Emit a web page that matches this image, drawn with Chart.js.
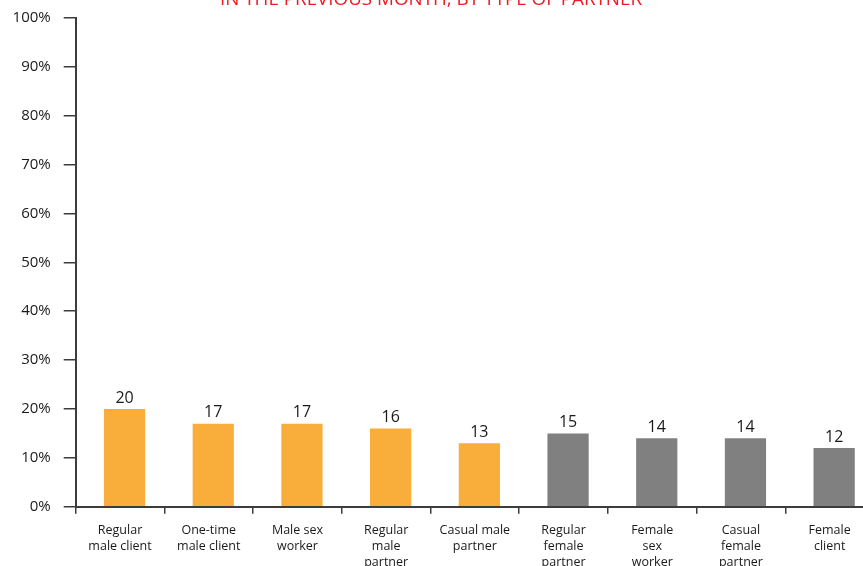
<!DOCTYPE html>
<html>
<head>
<meta charset="utf-8">
<script src="https://cdn.jsdelivr.net/npm/chart.js@4"></script>
<style>
    html, body { margin: 0; padding: 0; background: #ffffff; }
    #wrap { position: relative; width: 863px; height: 566px; overflow: hidden; }
    #box { position: absolute; left: -12px; top: -20px; width: 886px; height: 606px; }
</style>
</head>
<body>
<div id="wrap"><div id="box"><canvas id="chart"></canvas></div></div>
<script>
// Partner types (x axis), multi-line labels
const categories = [
    ['Regular', 'male client'],
    ['One-time', 'male client'],
    ['Male sex', 'worker'],
    ['Regular', 'male', 'partner'],
    ['Casual male', 'partner'],
    ['Regular', 'female', 'partner'],
    ['Female', 'sex', 'worker'],
    ['Casual', 'female', 'partner'],
    ['Female', 'client']
];
const values = [20, 17, 17, 16, 13, 15, 14, 14, 12];
// 'm' = male partner (orange), 'f' = female partner (grey)
const groups = ['m', 'm', 'm', 'm', 'm', 'f', 'f', 'f', 'f'];
const yTicks = [0, 10, 20, 30, 40, 50, 60, 70, 80, 90, 100];
const titleText = 'IN THE PREVIOUS MONTH, BY TYPE OF PARTNER';

const ORANGE = '#f9ae3b';
const GREY = '#808080';
const AXIS = '#3c3c3c';
const FONT = 'Open Sans';
const BAR_SHIFT = 4.5; // bars sit a little right of the category centre in the original

// nudges the bars, then draws the value above each one
const barShift = {
    id: 'barShift',
    beforeDatasetsDraw(chart) {
        chart.ctx.save();
        chart.ctx.translate(BAR_SHIFT, 0);
    },
    afterDatasetsDraw(chart) {
        const ctx = chart.ctx;
        ctx.restore();
        const meta = chart.getDatasetMeta(0);
        ctx.save();
        ctx.font = `16px "${FONT}"`;
        ctx.fillStyle = '#1a1a1a';
        ctx.textAlign = 'center';
        ctx.textBaseline = 'bottom';
        meta.data.forEach((bar, i) => {
            ctx.fillText(String(values[i]), bar.x + BAR_SHIFT, bar.y - 3);
        });
        ctx.restore();
    }
};

new Chart(document.getElementById('chart'), {
    type: 'bar',
    data: {
        labels: categories,
        datasets: [{
            data: values,
            backgroundColor: groups.map(g => g === 'm' ? ORANGE : GREY),
            borderWidth: 0,
            categoryPercentage: 1,
            barPercentage: 0.465
        }]
    },
    options: {
        responsive: true,
        maintainAspectRatio: false,
        animation: false,
        layout: { padding: { left: 0, right: 0, top: 0, bottom: 6.5 } },
        plugins: {
            legend: { display: false },
            tooltip: { enabled: false },
            title: {
                display: true,
                text: titleText,
                color: '#ed1c24',
                font: { family: FONT, size: 18.8, weight: 'normal' },
                padding: { top: 8, bottom: 7.4 }
            }
        },
        scales: {
            x: {
                grid: { drawOnChartArea: false, drawTicks: true, tickLength: 7, color: AXIS, lineWidth: 1.5 },
                border: { color: AXIS, width: 2 },
                ticks: {
                    color: '#1a1a1a',
                    font: { family: FONT, size: 12.5, lineHeight: 1.3 },
                    maxRotation: 0,
                    autoSkip: false,
                    padding: 8.5
                }
            },
            y: {
                min: 0,
                max: 100,
                afterBuildTicks: (scale) => { scale.ticks = yTicks.map(v => ({ value: v })); },
                afterFit: (scale) => { scale.width = 87.7; },
                grid: { drawOnChartArea: false, drawTicks: true, tickLength: 12, color: AXIS, lineWidth: 1.5 },
                border: { color: AXIS, width: 2 },
                ticks: {
                    color: '#1a1a1a',
                    font: { family: FONT, size: 15 },
                    padding: 13,
                    callback: (v) => v + '%'
                }
            }
        }
    },
    plugins: [barShift]
});
</script>
</body>
</html>
